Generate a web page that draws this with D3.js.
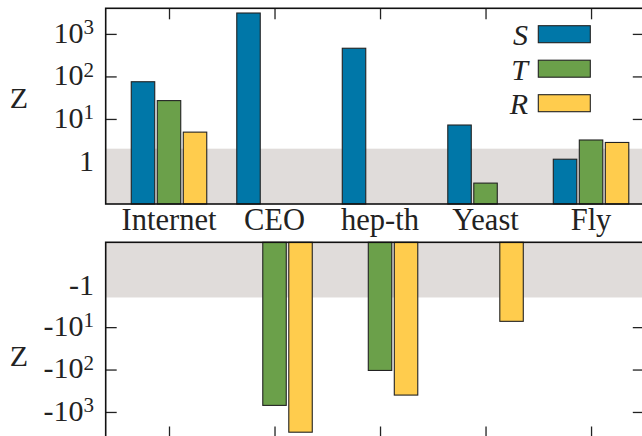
<!DOCTYPE html>
<html><head><meta charset="utf-8">
<script src="https://cdn.jsdelivr.net/npm/d3@7"></script>
<style>
html,body{margin:0;padding:0;background:#fff;}
svg{display:block;}
text{font-family:"Liberation Serif","DejaVu Serif",serif;fill:#222;}
</style></head>
<body>
<svg id="c" width="642" height="436"></svg>
<script>
// ---- data ----
const categories = ["Internet", "CEO", "hep-th", "Yeast", "Fly"];
const seriesNames = ["S", "T", "R"];
const S = [75, 3100, 460, 7.2, 1.13];
const T = [27, -700, -105, 0.31, 3.2];
const R = [4.9, -3000, -400, -7.3, 2.8];
const colors = ["#0077a8", "#6ba04a", "#ffcc4d"];
const topTicks = [1, 10, 100, 1000];
const botTicks = [1, 10, 100, 1000];
const bandLimit = 2;

const series = [S, T, R];
const svg = d3.select("#c");

const left = 105.7, right = 643.8;
const x = d3.scaleLinear().domain([-0.6, 4.5]).range([left, right]);
const barW = 0.2225, barStep = 0.2465;

const yTop = d3.scaleLog().domain([0.1, 4000]).range([204, 8.3]);
const yBot = d3.scaleLog().domain([0.1, 4000]).range([242.3, 437.5]);

const fmtSup = (sign) => function(d) {
  const t = d3.select(this);
  t.text(null);
  if (d === 1) { t.append("tspan").text(sign + "1"); return; }
  const e = Math.round(Math.log10(d));
  t.append("tspan").text(sign + "10");
  t.append("tspan").attr("dy", "-0.42em").attr("font-size", "21px").text(e);
};

function panel(y, top, ticks, sign) {
  const y0 = y.range()[0], y1 = y.range()[1];
  const ymin = Math.min(y0, y1), ymax = Math.max(y0, y1);
  const g = svg.append("g");
  const la = d3.axisLeft(y).tickValues(ticks).tickSize(-11).tickFormat("");
  const lg = g.append("g").attr("transform", `translate(${left},0)`).call(la);
  lg.select(".domain").remove();
  lg.selectAll(".tick line").attr("stroke", "#222").attr("stroke-width", 1.3);
  const ra = d3.axisRight(y).tickValues(ticks).tickSize(-11).tickFormat("");
  const rg = g.append("g").attr("transform", `translate(${right},0)`).call(ra);
  rg.select(".domain").remove();
  rg.selectAll(".tick line").attr("stroke", "#222").attr("stroke-width", 1.3);
  const ca = (top ? d3.axisTop(x) : d3.axisBottom(x)).tickValues(d3.range(categories.length)).tickSize(-11).tickFormat("");
  const cg = g.append("g").attr("transform", `translate(0,${top ? ymin : ymax})`).call(ca);
  cg.select(".domain").remove();
  cg.selectAll(".tick line").attr("stroke", "#222").attr("stroke-width", 1.3);
  g.append("g").selectAll("text").data(ticks).join("text")
    .attr("x", 94).attr("y", d => y(d) + (d === 1 ? 0 : -1)).attr("dy", "0.33em")
    .attr("text-anchor", "end").attr("font-size", "30px")
    .each(fmtSup(sign));
  g.append("rect").attr("x", left).attr("width", right - left)
    .attr("y", top ? y(bandLimit) : ymin)
    .attr("height", top ? ymax - y(bandLimit) : y(bandLimit) - ymin)
    .attr("fill", "#e0dcda");
  series.forEach((arr, j) => {
    g.append("g").selectAll("rect").data(arr.map((v, i) => ({v, i})).filter(d => top ? d.v > 0 : d.v < 0))
      .join("rect")
      .attr("x", d => x(d.i + (j - 1) * barStep - barW / 2))
      .attr("width", d => x(barW) - x(0))
      .attr("y", d => top ? y(d.v) : ymin)
      .attr("height", d => top ? ymax - y(d.v) : y(Math.abs(d.v)) - ymin)
      .attr("fill", colors[j]).attr("stroke", "#222").attr("stroke-width", 1.1);
  });
  g.append("rect").attr("x", left).attr("y", ymin).attr("width", right - left).attr("height", ymax - ymin)
    .attr("fill", "none").attr("stroke", "#111").attr("stroke-width", 1.6);
  g.append("text").attr("x", 19).attr("y", top ? 97 : 355).attr("dy", "0.35em")
    .attr("text-anchor", "middle").attr("font-size", "30px").text("Z");
}

panel(yTop, true, topTicks, "");
panel(yBot, false, botTicks, "-");

svg.append("g").selectAll("text").data(categories).join("text")
  .attr("x", (d, i) => x(i)).attr("y", 229.5)
  .attr("text-anchor", "middle").attr("font-size", "30.5px").text(d => d);

const lg = svg.append("g").selectAll("g").data(seriesNames).join("g")
  .attr("transform", (d, i) => `translate(0,${25.7 + i * 34.5})`);
lg.append("rect").attr("x", 538.3).attr("y", 0).attr("width", 52).attr("height", 17)
  .attr("fill", (d, i) => colors[i]).attr("stroke", "#222").attr("stroke-width", 1.1);
lg.append("text").attr("x", 528).attr("y", 8.5).attr("dy", "0.36em")
  .attr("text-anchor", "end").attr("font-size", "30px").attr("font-style", "italic").text(d => d);
</script>
</body></html>
